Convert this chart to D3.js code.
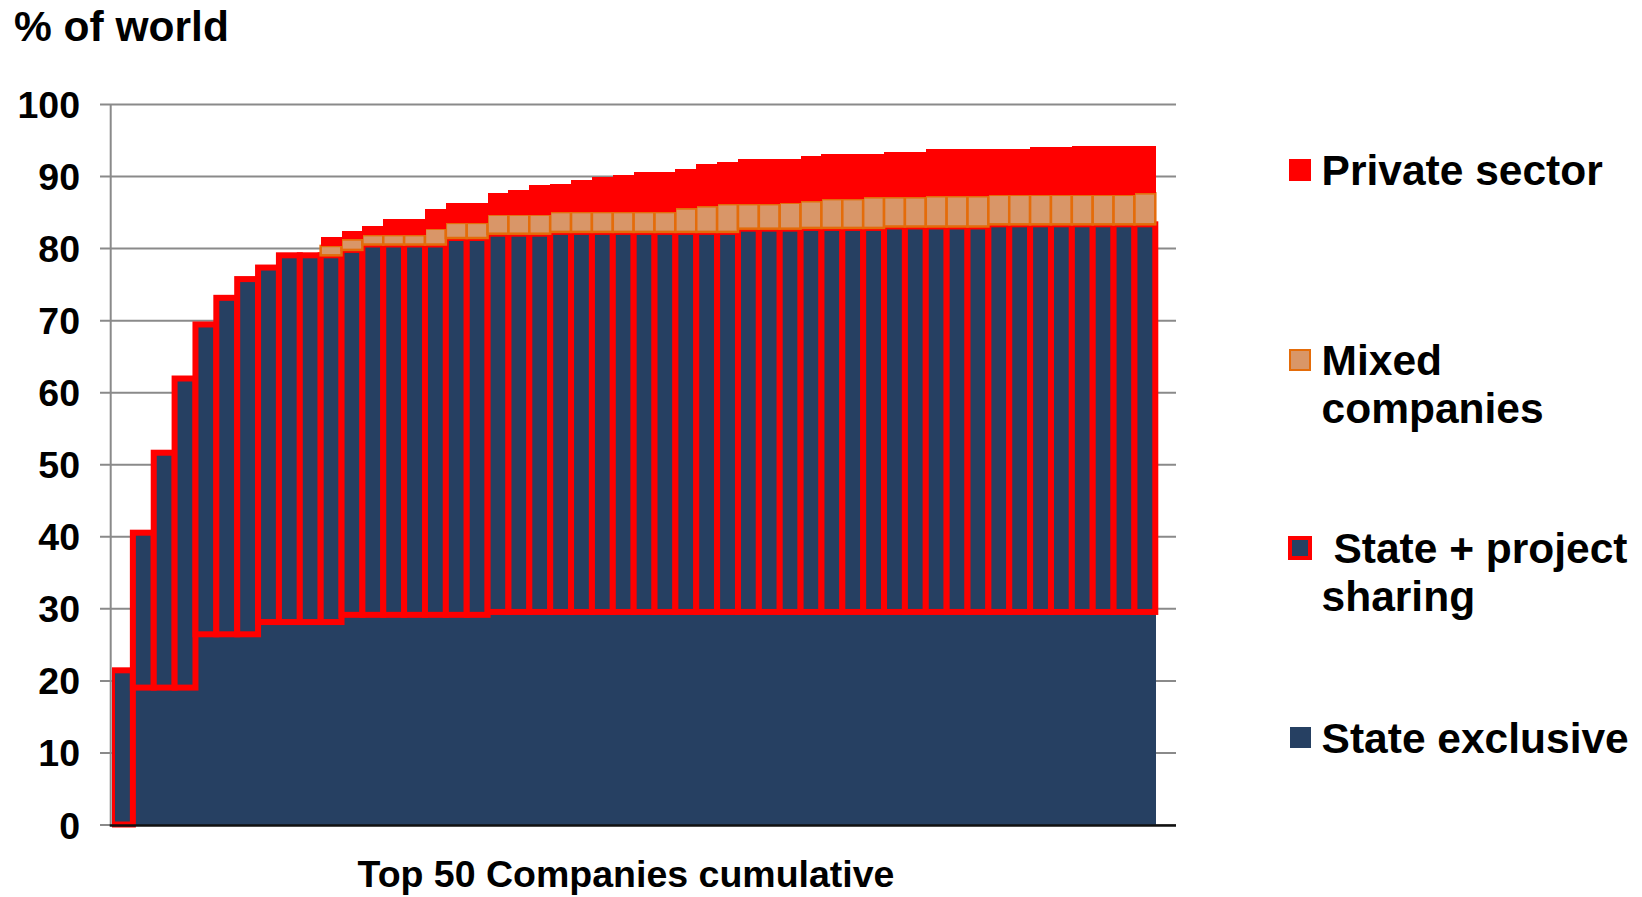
<!DOCTYPE html>
<html>
<head>
<meta charset="utf-8">
<script src="https://cdn.jsdelivr.net/npm/d3@7"></script>
<style>
  html, body { margin: 0; padding: 0; background: #ffffff; }
  svg { display: block; font-family: "Liberation Sans", Arial, sans-serif; font-weight: bold; }
</style>
</head>
<body>
<svg id="chart" width="1642" height="897"></svg>
<script>
// Company rank (top 50, cumulative)
const categories = [1, 2, 3, 4, 5, 6, 7, 8, 9, 10,
  11, 12, 13, 14, 15, 16, 17, 18, 19, 20,
  21, 22, 23, 24, 25, 26, 27, 28, 29, 30,
  31, 32, 33, 34, 35, 36, 37, 38, 39, 40,
  41, 42, 43, 44, 45, 46, 47, 48, 49, 50];

// Share of world (%), per ownership type
const stateExclusive = [0, 19, 19, 19, 26.4, 26.4, 26.4, 28.1, 28.1, 28.1,
  28.1, 29.1, 29.1, 29.1, 29.1, 29.1, 29.1, 29.1, 29.5, 29.5,
  29.5, 29.5, 29.5, 29.5, 29.5, 29.5, 29.5, 29.5, 29.5, 29.5,
  29.5, 29.5, 29.5, 29.5, 29.5, 29.5, 29.5, 29.5, 29.5, 29.5,
  29.5, 29.5, 29.5, 29.5, 29.5, 29.5, 29.5, 29.5, 29.5, 29.5];

const stateProjectSharing = [21.4, 21.5, 32.6, 42.9, 43.0, 46.7, 49.3, 49.2, 50.9, 50.9,
  50.9, 50.65, 51.4, 51.4, 51.4, 51.4, 52.3, 52.3, 52.5, 52.5,
  52.5, 52.75, 52.75, 52.75, 52.75, 52.75, 52.75, 52.75, 52.75, 52.75,
  53.2, 53.2, 53.2, 53.3, 53.3, 53.3, 53.3, 53.5, 53.5, 53.5,
  53.5, 53.5, 53.8, 53.8, 53.8, 53.8, 53.8, 53.8, 53.8, 53.8];

const mixedCompanies = [0, 0, 0, 0, 0, 0, 0, 0, 0, 0,
  1.3, 1.45, 1.3, 1.3, 1.3, 2.2, 2.1, 2.1, 2.65, 2.65,
  2.65, 2.75, 2.75, 2.75, 2.75, 2.75, 2.75, 3.25, 3.55, 3.85,
  3.4, 3.4, 3.6, 3.7, 4.0, 4.0, 4.25, 4.05, 4.05, 4.2,
  4.2, 4.2, 4.1, 4.1, 4.1, 4.1, 4.1, 4.1, 4.1, 4.3];

const privateSector = [0, 0, 0, 0, 0, 0, 0, 0, 0, 0,
  1.25, 1.2, 1.3, 2.25, 2.25, 2.7, 2.7, 2.7, 2.95, 3.45,
  4.05, 3.95, 4.5, 4.9, 5.2, 5.6, 5.6, 5.5, 5.9, 5.8,
  6.2, 6.2, 6.1, 6.25, 6.2, 6.2, 6.05, 6.25, 6.25, 6.5,
  6.5, 6.6, 6.4, 6.4, 6.6, 6.6, 6.8, 6.8, 6.8, 6.6];

const yTicks = [0, 10, 20, 30, 40, 50, 60, 70, 80, 90, 100];

const seriesKeys = ["stateExclusive", "stateProjectSharing", "mixedCompanies", "privateSector"];

const rows = categories.map((c, i) => ({
  company: c,
  stateExclusive: stateExclusive[i],
  stateProjectSharing: stateProjectSharing[i],
  mixedCompanies: mixedCompanies[i],
  privateSector: privateSector[i]
}));

const styles = {
  stateExclusive:      { fill: "#264062", stroke: "none",    width: 0,   crisp: true },
  stateProjectSharing: { fill: "#264062", stroke: "#ff0000", width: 6,   crisp: false },
  mixedCompanies:      { fill: "#d99668", stroke: "#e46c0a", width: 2.5, crisp: false },
  privateSector:       { fill: "#ff0000", stroke: "none",    width: 0,   crisp: true }
};

const svg = d3.select("#chart");

const x = d3.scaleBand().domain(categories).range([112, 1155.3]).padding(0);
const y = d3.scaleLinear().domain([0, 100]).range([824.5, 104]);

const gridLeft = 100, gridRight = 1176, axisX = 110.7;

// Gridlines and tick labels
const yAxis = d3.axisLeft(y)
  .tickValues(yTicks)
  .tickSize(-(gridRight - gridLeft))
  .tickPadding(20)
  .tickFormat(d3.format("d"));

const gAxis = svg.append("g")
  .attr("transform", `translate(${gridLeft},0)`)
  .call(yAxis);
gAxis.select(".domain").remove();
gAxis.selectAll(".tick line")
  .attr("stroke", "#8a8a8a")
  .attr("stroke-width", 2);
gAxis.selectAll(".tick text")
  .attr("fill", "#000")
  .attr("font-size", 37.5)
  .attr("font-weight", "bold")
  .attr("font-family", "'Liberation Sans', Arial, sans-serif")
  .attr("dy", "0.36em");

// Plot clip so bars do not spill over the value axis
svg.append("clipPath").attr("id", "plotClip")
  .append("rect").attr("x", 112).attr("y", 0).attr("width", 1200).attr("height", 897);

// Stacked bars
const stacked = d3.stack().keys(seriesKeys)(rows);

const gBars = svg.append("g").attr("clip-path", "url(#plotClip)");

stacked.forEach(layer => {
  const st = styles[layer.key];
  gBars.append("g")
    .attr("class", "layer-" + layer.key)
    .attr("shape-rendering", st.crisp ? "crispEdges" : "auto")
    .selectAll("rect")
    .data(layer.filter(d => d[1] - d[0] > 0))
    .join("rect")
      .attr("x", d => x(d.data.company))
      .attr("width", x.bandwidth() + (st.crisp ? 0.6 : 0))
      .attr("y", d => y(d[1]))
      .attr("height", d => y(d[0]) - y(d[1]))
      .attr("fill", st.fill)
      .attr("stroke", st.stroke)
      .attr("stroke-width", st.width);
});

// Value axis line
svg.append("line")
  .attr("x1", axisX).attr("x2", axisX)
  .attr("y1", y(100)).attr("y2", y(0) + 1)
  .attr("stroke", "#8a8a8a").attr("stroke-width", 2);

// Category axis baseline
svg.append("line")
  .attr("x1", axisX - 1).attr("x2", gridRight)
  .attr("y1", y(0) + 1).attr("y2", y(0) + 1)
  .attr("stroke", "#111").attr("stroke-width", 2.5);

// Titles
svg.append("text")
  .attr("x", 14).attr("y", 41)
  .attr("font-size", 42.5)
  .text("% of world");

svg.append("text")
  .attr("x", 626).attr("y", 887)
  .attr("text-anchor", "middle")
  .attr("font-size", 37.5)
  .text("Top 50 Companies cumulative");

// Legend
const legendItems = [
  { key: "privateSector",       lines: ["Private sector"],              sq: [1289, 159, 22], baseline: 185 },
  { key: "mixedCompanies",      lines: ["Mixed", "companies"],          sq: [1290, 350, 20], baseline: 375 },
  { key: "stateProjectSharing", lines: [" State + project", "sharing"], sq: [1290, 538, 20], baseline: 563 },
  { key: "stateExclusive",      lines: ["State exclusive"],             sq: [1290, 727, 21], baseline: 753 }
];

const gLegend = svg.append("g");
legendItems.forEach(item => {
  const st = styles[item.key];
  const [sx, sy, ss] = item.sq;
  gLegend.append("rect")
    .attr("x", sx).attr("y", sy)
    .attr("width", ss).attr("height", ss)
    .attr("fill", st.fill)
    .attr("stroke", st.stroke)
    .attr("stroke-width", item.key === "stateProjectSharing" ? 4 : (st.width ? 2 : 0));
  const t = gLegend.append("text")
    .attr("x", 1321.6).attr("y", item.baseline)
    .attr("font-size", 42.5)
    .style("white-space", "pre");
  item.lines.forEach((ln, k) => {
    t.append("tspan")
      .attr("x", 1321.6)
      .attr("dy", k === 0 ? 0 : 48)
      .text(ln);
  });
});
</script>
</body>
</html>
